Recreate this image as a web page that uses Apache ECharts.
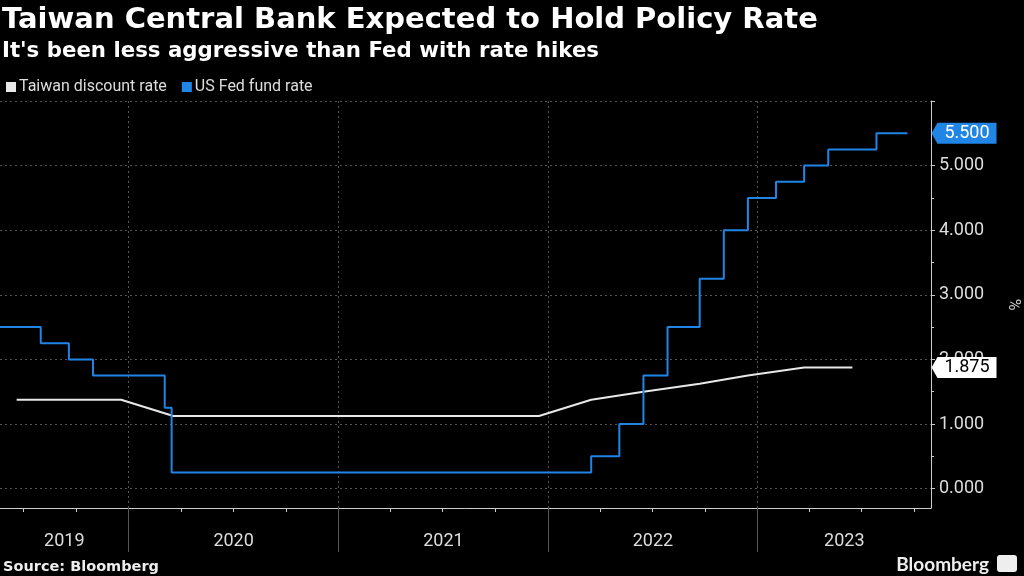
<!DOCTYPE html>
<html><head><meta charset="utf-8">
<script src="https://cdn.jsdelivr.net/npm/echarts@6/dist/echarts.min.js"></script>
<style>html,body{margin:0;padding:0;background:#000;}#c{width:1024px;height:576px;}</style>
</head><body><div id="c"></div>
<script>
// ---- data ----
const fedDates = ['2019-05-22','2019-08-01','2019-09-19','2019-10-31','2020-03-04','2020-03-16','2022-03-17','2022-05-05','2022-06-16','2022-07-28','2022-09-22','2022-11-03','2022-12-15','2023-02-02','2023-03-23','2023-05-04','2023-07-27','2023-09-19'];
const fedRates = [2.5,2.25,2.0,1.75,1.25,0.25,0.5,1.0,1.75,2.5,3.25,4.0,4.5,4.75,5.0,5.25,5.5,5.5];
const twDates = ['2019-06-20','2019-09-19','2019-12-19','2020-03-19','2020-06-18','2020-09-24','2020-12-17','2021-03-18','2021-06-17','2021-09-23','2021-12-16','2022-03-17','2022-06-16','2022-09-22','2022-12-15','2023-03-23','2023-06-15'];
const twRates = [1.375,1.375,1.375,1.125,1.125,1.125,1.125,1.125,1.125,1.125,1.125,1.375,1.5,1.625,1.75,1.875,1.875];
const years = [2019,2020,2021,2022,2023];
const yTickValues = [0,1,2,3,4,5,6];
const yLabelValues = [0,1,2,3,4,5];
const yMinorValues = [0.5,1.5,2.5,3.5,4.5,5.5];
const xMinStr = '2019-05-22', xMaxStr = '2023-10-30';

const P = s => echarts.time.parse(s).getTime();
const xMin = P(xMinStr), xMax = P(xMaxStr);

// axis decorations
const quarterTicks = [];
years.forEach(y => ['01','04','07','10'].forEach(m => {
  const t = P(y + '-' + m + '-01');
  if (t > xMin && t < xMax) quarterTicks.push(t);
}));
const yearStarts = years.slice(1).map(y => P(y + '-01-01'));
const yearCenters = years.map(y => {
  const a = Math.max(P(y + '-01-01'), xMin);
  const b = Math.min(P((y + 1) + '-01-01'), xMax);
  return Math.round((a + b) / 2);
});

const fedData = fedDates.map((d, i) => [P(d), fedRates[i]]);
const twData = twDates.map((d, i) => [P(d), twRates[i]]);
const fedLast = fedRates[fedRates.length - 1];
const twLast = twRates[twRates.length - 1];

const BLUE = '#2185e5';
const WHITE = '#e8e8e8';
const tagPath = 'path://M0,10.5L6,0L65,0L65,21L6,21Z';

function tag(value, fill, textColor) {
  return {
    symbol: tagPath, symbolSize: [65, 21], symbolOffset: [33, 0], silent: true,
    data: [{ coord: [xMax, value], itemStyle: { color: fill },
      label: { show: true, position: 'inside', offset: [3, 0], formatter: value.toFixed(3),
        color: textColor, fontSize: 18, fontFamily: 'Roboto' } }]
  };
}

const chart = echarts.init(document.getElementById('c'));
chart.setOption({
  backgroundColor: '#000',
  animation: false,
  title: [
    { text: 'Taiwan Central Bank Expected to Hold Policy Rate', left: -3, top: 1,
      textStyle: { color: '#fff', fontSize: 29, fontWeight: 'bold', fontFamily: 'DejaVu Sans' } },
    { text: "It's been less aggressive than Fed with rate hikes", left: -3, top: 36,
      textStyle: { color: '#fff', fontSize: 21.3, fontWeight: 'bold', fontFamily: 'DejaVu Sans' } },
    { text: 'Source: Bloomberg', left: -2, top: 555,
      textStyle: { color: '#eee', fontSize: 14.5, fontWeight: 'bold', fontFamily: 'DejaVu Sans' } },
    { text: 'Bloomberg', right: 30, top: 550,
      textStyle: { color: '#eee', fontSize: 19, fontWeight: 'bold', fontFamily: 'Lato' } }
  ],
  graphic: [
    { type: 'rect', left: 997, top: 555, shape: { width: 20, height: 17, r: 3 }, style: { fill: '#eee' } }
  ],
  legend: {
    left: 6, top: 79, padding: 0, icon: 'rect', itemWidth: 10, itemHeight: 10, itemGap: 15,
    textStyle: { color: '#ddd', fontSize: 16, fontFamily: 'Roboto', padding: [0, 0, 0, -2] },
    data: ['Taiwan discount rate', 'US Fed fund rate']
  },
  grid: { left: 0, right: 93, top: 101, bottom: 68, containLabel: false, outerBoundsMode: 'none' },
  xAxis: [
    { type: 'value', min: xMin, max: xMax, position: 'bottom', scale: true,
      axisLine: { show: true, onZero: false, lineStyle: { color: '#ccc', width: 1 } },
      axisTick: { show: true, customValues: quarterTicks, length: 4, lineStyle: { color: '#ccc' } },
      axisLabel: { show: false }, splitLine: { show: false } },
    { type: 'value', min: xMin, max: xMax, position: 'bottom', scale: true,
      axisLine: { show: false, onZero: false },
      axisTick: { show: true, customValues: yearStarts, length: 44, lineStyle: { color: '#555' } },
      axisLabel: { show: true, customValues: yearCenters, margin: 24, color: '#ddd', fontSize: 18,
        fontFamily: 'Roboto', formatter: v => String(new Date(v).getUTCFullYear()) },
      splitLine: { show: true, lineStyle: { color: '#555', type: [2, 3] } } }
  ],
  yAxis: [
    { type: 'value', position: 'right', min: -0.3, max: 6,
      axisLine: { show: true, lineStyle: { color: '#ccc' } },
      axisTick: { show: true, customValues: yTickValues, length: 4, lineStyle: { color: '#ccc' } },
      axisLabel: { show: true, customValues: yLabelValues, margin: 8, color: '#ddd', fontSize: 18,
        fontFamily: 'Roboto', formatter: v => v.toFixed(3) },
      splitLine: { show: true, lineStyle: { color: '#555', type: [2, 3] } },
      name: '%', nameLocation: 'middle', nameGap: 74, nameRotate: -90,
      nameTextStyle: { color: '#ccc', fontSize: 16, fontFamily: 'Roboto' } },
    { type: 'value', position: 'right', min: -0.3, max: 6,
      axisLine: { show: false },
      axisTick: { show: true, customValues: yMinorValues, length: 3, lineStyle: { color: '#ccc' } },
      axisLabel: { show: false }, splitLine: { show: false } }
  ],
  series: [
    { name: 'Taiwan discount rate', type: 'line', data: twData, showSymbol: false, symbol: 'none',
      color: WHITE, lineStyle: { width: 2, color: WHITE }, z: 2,
      markPoint: tag(twLast, '#fff', '#000') },
    { name: 'US Fed fund rate', type: 'line', step: 'end', data: fedData, showSymbol: false, symbol: 'none',
      color: BLUE, lineStyle: { width: 2, color: BLUE }, z: 3,
      markPoint: tag(fedLast, BLUE, '#fff') }
  ]
});
</script>
</body></html>
